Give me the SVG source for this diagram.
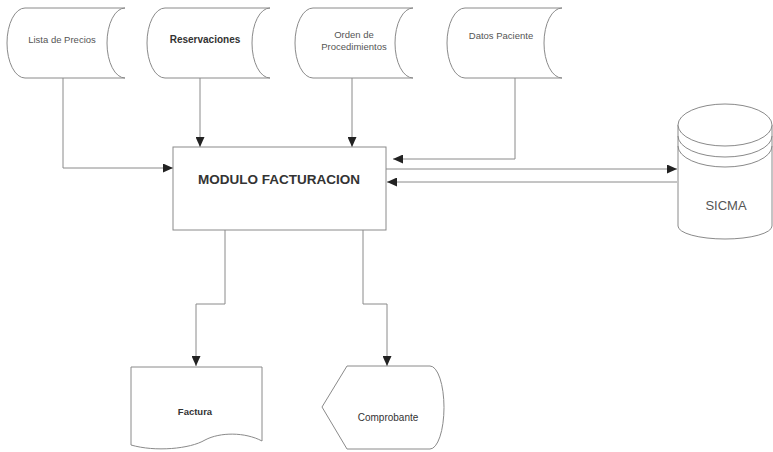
<svg xmlns="http://www.w3.org/2000/svg" width="773" height="452" viewBox="0 0 773 452">
<style>
.shape{fill:#ffffff;stroke:#8a8a8a;stroke-width:1}
.conn{fill:none;stroke:#8a8a8a;stroke-width:1}
.lbl{font-family:"Liberation Sans",Arial,sans-serif;fill:#555555;text-anchor:middle}
.bold{font-weight:bold;fill:#333333}
</style>
<defs>
<marker id="arr" markerUnits="userSpaceOnUse" markerWidth="10" markerHeight="9" refX="10" refY="4.5" orient="auto">
<path d="M0,0 L10,4.5 L0,9 Z" fill="#222222"/>
</marker>
</defs>
<rect width="773" height="452" fill="#ffffff"/>
<g id="connectors">
<path class="conn" d="M63,78 V168 H173" marker-end="url(#arr)"/>
<path class="conn" d="M200,78 V147" marker-end="url(#arr)"/>
<path class="conn" d="M352,78 V147" marker-end="url(#arr)"/>
<path class="conn" d="M515,78 V159 H393" marker-end="url(#arr)"/>
<path class="conn" d="M386,169 H677" marker-end="url(#arr)"/>
<path class="conn" d="M677,182 H387" marker-end="url(#arr)"/>
<path class="conn" d="M225,230 V304 H196 V366" marker-end="url(#arr)"/>
<path class="conn" d="M363,230 V304 H387 V366" marker-end="url(#arr)"/>
</g>
<g id="lista-precios">
<path class="shape" d="M25,8 L125,8 A18,35 0 0 0 125,78 L25,78 A18,35 0 0 1 25,8 Z"/>
<text class="lbl" x="62" y="43" font-size="9.5">Lista de Precios</text>
</g>
<g id="reservaciones">
<path class="shape" d="M165,8 L270,8 A18,35 0 0 0 270,78 L165,78 A18,35 0 0 1 165,8 Z"/>
<text class="lbl bold" x="205" y="43" font-size="10">Reservaciones</text>
</g>
<g id="orden-procedimientos">
<path class="shape" d="M313,8 L413,8 A18,35 0 0 0 413,78 L313,78 A18,35 0 0 1 313,8 Z"/>
<text class="lbl" x="354" y="38" font-size="9.5">Orden de</text>
<text class="lbl" x="354" y="50" font-size="9.5">Procedimientos</text>
</g>
<g id="datos-paciente">
<path class="shape" d="M465,8 L562,8 A18,35 0 0 0 562,78 L465,78 A18,35 0 0 1 465,8 Z"/>
<text class="lbl" x="501" y="39" font-size="9.5">Datos Paciente</text>
</g>
<g id="modulo-facturacion">
<rect class="shape" x="173" y="147" width="213" height="83"/>
<text class="lbl bold" x="279" y="184" font-size="13.5">MODULO FACTURACION</text>
</g>
<g id="sicma">
<path class="shape" d="M678,125 L678,226 A47,13 0 0 0 772,226 L772,125"/>
<ellipse class="shape" cx="725" cy="125" rx="47" ry="21"/>
<path class="conn" d="M678,136 A47,21 0 0 0 772,136"/>
<path class="conn" d="M678,146 A47,21 0 0 0 772,146"/>
<text class="lbl" x="726" y="210" font-size="13">SICMA</text>
</g>
<g id="factura">
<path class="shape" d="M131,367 H262 V441 C245,432 220,432 205,440 C190,449 155,452 131,445 Z"/>
<text class="lbl bold" x="195" y="415" font-size="9.5">Factura</text>
</g>
<g id="comprobante">
<path class="shape" d="M347,366 L430,366 A14,41.5 0 0 1 430,449 L347,449 L322,407 Z"/>
<text class="lbl" x="388" y="421" font-size="10" style="fill:#333">Comprobante</text>
</g>
</svg>
